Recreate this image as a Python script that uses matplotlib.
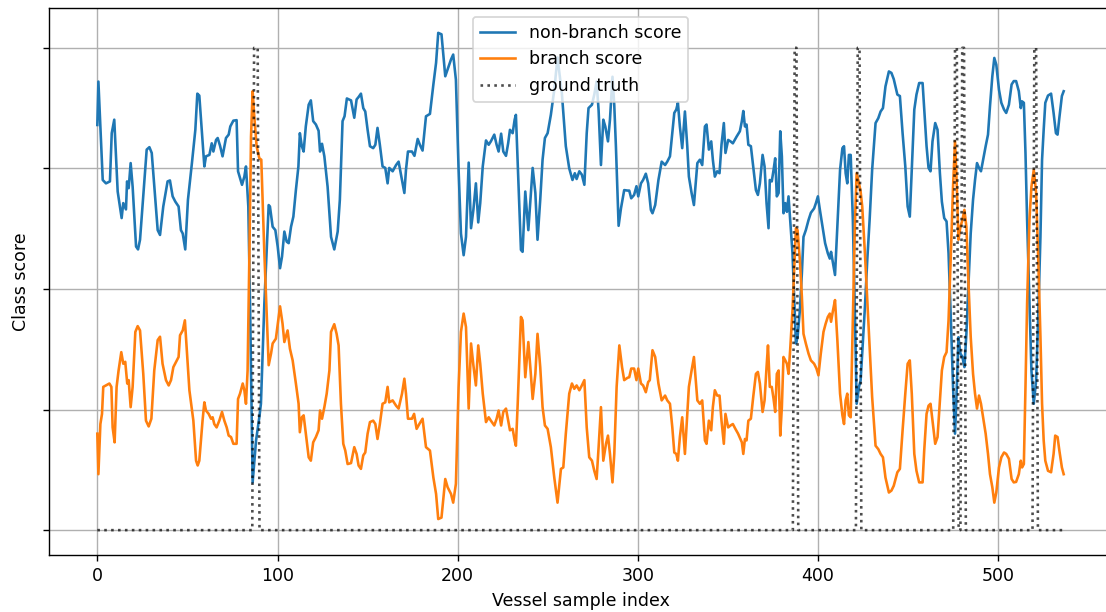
import numpy as np
import matplotlib
matplotlib.use("Agg")
import matplotlib.pyplot as plt

# vertices (sample index, score)
nonbranch_x = [0.0, 0.6, 3.0, 4.8, 7.0, 8.0, 9.4, 11.3, 13.5, 14.4, 15.9, 16.5, 17.4, 18.5, 19.6, 21.5, 22.6, 23.7,
               27.4, 28.9, 30.2, 33.5, 34.8, 36.6, 39.0, 40.3, 41.8, 43.3, 45.1, 46.4, 47.4, 48.8, 50.3, 52.5, 54.4,
               55.5, 56.6, 59.4, 60.3, 62.2, 63.5, 64.4, 65.9, 66.8, 68.1, 69.5, 71.4, 72.9, 73.8, 75.5, 77.3, 78.1,
               80.3, 81.6, 82.5, 83.8, 84.9, 86.2, 88.1, 89.9, 90.8, 92.7, 95.1, 95.8, 97.3, 98.8, 100.1, 101.4,
               102.5, 103.8, 105.1, 106.2, 107.5, 108.8, 110.2, 111.6, 112.4, 113.5, 114.5, 115.7, 117.3, 118.5,
               119.8, 121.3, 122.8, 123.6, 124.7, 126.0, 127.8, 129.7, 131.5, 133.4, 134.6, 136.1, 137.2, 138.5,
               140.8, 142.6, 143.9, 145.0, 146.3, 147.6, 148.7, 150.0, 151.3, 153.1, 154.3, 155.5, 156.8, 158.3,
               159.8, 161.1, 162.0, 163.9, 165.8, 167.2, 169.1, 170.4, 171.3, 172.4, 174.6, 176.0, 177.8, 179.0,
               180.5, 182.4, 184.6, 186.5, 188.0, 189.2, 191.0, 193.1, 194.4, 196.3, 197.5, 199.0, 200.5, 201.8,
               203.3, 204.6, 206.1, 207.4, 208.7, 210.1, 211.4, 212.5, 213.9, 215.7, 217.2, 218.4, 220.3, 221.6,
               222.7, 224.1, 225.3, 226.8, 228.0, 229.0, 230.5, 231.6, 232.3, 233.3, 235.1, 236.0, 237.5, 239.2,
               240.3, 241.6, 243.1, 244.3, 245.8, 247.1, 248.4, 249.9, 251.7, 253.6, 255.4, 257.8, 260.0, 261.9,
               263.7, 265.0, 266.0, 267.5, 268.9, 270.3, 271.6, 272.6, 274.5, 275.8, 277.1, 278.2, 279.5, 280.8,
               281.9, 283.4, 284.5, 285.9, 286.9, 287.8, 289.3, 290.6, 292.4, 294.3, 295.2, 296.3, 297.9, 299.2,
               300.2, 301.7, 302.9, 304.4, 305.7, 307.2, 308.1, 309.6, 311.4, 313.2, 315.1, 316.3, 317.8, 319.1,
               320.2, 321.3, 322.2, 323.3, 324.6, 326.1, 327.4, 328.3, 329.8, 331.1, 333.0, 334.4, 335.7, 337.2,
               338.1, 339.4, 340.7, 341.6, 342.7, 344.0, 345.3, 346.4, 347.7, 348.6, 350.1, 351.4, 352.7, 354.8,
               356.6, 357.7, 358.5, 359.4, 360.3, 361.3, 362.7, 364.0, 365.5, 366.6, 367.7, 369.2, 370.3, 371.4,
               372.5, 373.2, 374.3, 375.3, 376.2, 377.1, 378.1, 379.0, 379.9, 380.8, 381.8, 382.7, 383.6, 384.5,
               385.8, 386.8, 387.7, 388.6, 389.9, 391.0, 391.9, 393.2, 394.7, 396.0, 397.8, 398.8, 399.9, 401.0,
               402.5, 403.9, 405.4, 406.5, 407.2, 408.3, 409.4, 410.7, 412.2, 413.5, 414.4, 415.3, 416.2, 417.1,
               418.1, 419.3, 420.5, 421.4, 422.7, 423.6, 424.5, 426.0, 427.3, 428.6, 430.0, 431.9, 433.4, 434.7,
               436.0, 437.4, 439.3, 440.7, 442.0, 444.0, 445.4, 446.9, 448.4, 449.7, 450.9, 452.0, 453.4, 454.6,
               456.1, 458.0, 458.9, 460.2, 461.3, 462.4, 463.5, 465.0, 466.3, 467.6, 468.7, 470.0, 471.3, 472.4,
               473.7, 474.9, 476.0, 477.0, 477.9, 479.0, 480.1, 481.2, 482.3, 483.4, 484.7, 486.0, 487.1, 488.2,
               489.3, 490.4, 491.6, 493.0, 494.3, 495.4, 496.7, 497.8, 498.9, 500.4, 501.7, 503.2, 504.4, 505.9,
               507.4, 508.6, 509.9, 511.4, 512.5, 513.2, 514.2, 515.1, 516.0, 517.3, 518.4, 519.7, 521.0, 522.1,
               523.4, 524.3, 525.2, 526.1, 527.6, 529.3, 530.7, 532.0, 532.9, 533.9, 535.3, 536.3]
nonbranch = [0.84, 0.93, 0.726, 0.719, 0.723, 0.823, 0.851, 0.702, 0.647, 0.678, 0.665, 0.723, 0.709, 0.761, 0.712,
             0.588, 0.582, 0.602, 0.789, 0.794, 0.782, 0.622, 0.612, 0.671, 0.723, 0.725, 0.692, 0.681, 0.671, 0.622,
             0.615, 0.582, 0.685, 0.761, 0.830, 0.905, 0.901, 0.754, 0.775, 0.778, 0.802, 0.785, 0.809, 0.813, 0.797,
             0.775, 0.813, 0.820, 0.837, 0.849, 0.850, 0.744, 0.716, 0.733, 0.754, 0.671, 0.435, 0.099, 0.186, 0.234,
             0.262, 0.470, 0.674, 0.671, 0.629, 0.622, 0.588, 0.543, 0.567, 0.619, 0.598, 0.595, 0.629, 0.650, 0.705,
             0.754, 0.823, 0.796, 0.785, 0.837, 0.882, 0.891, 0.848, 0.841, 0.828, 0.785, 0.801, 0.775, 0.712, 0.608,
             0.582, 0.619, 0.685, 0.848, 0.858, 0.895, 0.891, 0.855, 0.893, 0.898, 0.905, 0.875, 0.868, 0.830, 0.796,
             0.792, 0.799, 0.834, 0.799, 0.754, 0.751, 0.719, 0.751, 0.744, 0.757, 0.764, 0.726, 0.699, 0.747, 0.785,
             0.785, 0.776, 0.811, 0.799, 0.787, 0.858, 0.863, 0.924, 0.969, 1.031, 1.028, 0.941, 0.955, 0.976, 0.986,
             0.934, 0.747, 0.615, 0.570, 0.608, 0.762, 0.626, 0.664, 0.719, 0.638, 0.678, 0.754, 0.808, 0.799, 0.806,
             0.820, 0.799, 0.785, 0.822, 0.785, 0.776, 0.802, 0.830, 0.823, 0.851, 0.861, 0.761, 0.581, 0.577, 0.702,
             0.622, 0.681, 0.751, 0.699, 0.602, 0.685, 0.768, 0.813, 0.823, 0.861, 0.913, 0.980, 0.906, 0.796, 0.750,
             0.726, 0.740, 0.728, 0.744, 0.737, 0.716, 0.823, 0.875, 0.882, 0.903, 0.930, 0.870, 0.757, 0.851, 0.837,
             0.806, 0.851, 0.940, 0.880, 0.796, 0.631, 0.667, 0.705, 0.704, 0.704, 0.688, 0.695, 0.713, 0.692, 0.719,
             0.726, 0.739, 0.719, 0.664, 0.657, 0.674, 0.726, 0.764, 0.757, 0.764, 0.775, 0.823, 0.865, 0.872, 0.886,
             0.837, 0.792, 0.868, 0.796, 0.733, 0.699, 0.674, 0.761, 0.768, 0.757, 0.837, 0.841, 0.789, 0.806, 0.768,
             0.733, 0.744, 0.740, 0.799, 0.844, 0.782, 0.809, 0.806, 0.802, 0.816, 0.827, 0.848, 0.869, 0.837, 0.841,
             0.799, 0.796, 0.754, 0.705, 0.695, 0.719, 0.778, 0.754, 0.678, 0.626, 0.726, 0.723, 0.747, 0.771, 0.692,
             0.699, 0.827, 0.775, 0.657, 0.678, 0.660, 0.692, 0.643, 0.574, 0.477, 0.387, 0.400, 0.456, 0.532, 0.608,
             0.622, 0.643, 0.658, 0.667, 0.678, 0.692, 0.664, 0.629, 0.595, 0.574, 0.563, 0.577, 0.553, 0.529, 0.629,
             0.747, 0.792, 0.796, 0.740, 0.719, 0.778, 0.778, 0.643, 0.435, 0.262, 0.297, 0.310, 0.366, 0.463, 0.560,
             0.643, 0.747, 0.844, 0.854, 0.868, 0.875, 0.920, 0.951, 0.948, 0.935, 0.903, 0.900, 0.823, 0.754, 0.671,
             0.650, 0.747, 0.872, 0.903, 0.927, 0.927, 0.872, 0.796, 0.751, 0.744, 0.806, 0.844, 0.830, 0.740, 0.681,
             0.647, 0.640, 0.574, 0.435, 0.297, 0.200, 0.297, 0.400, 0.366, 0.359, 0.338, 0.407, 0.505, 0.615, 0.685,
             0.726, 0.761, 0.751, 0.744, 0.768, 0.796, 0.820, 0.879, 0.941, 0.979, 0.965, 0.913, 0.886, 0.872, 0.865,
             0.882, 0.924, 0.931, 0.931, 0.910, 0.875, 0.889, 0.886, 0.782, 0.643, 0.470, 0.331, 0.262, 0.310, 0.435,
             0.608, 0.768, 0.830, 0.886, 0.901, 0.905, 0.865, 0.823, 0.820, 0.855, 0.900, 0.910]

branch_x = [0.0, 0.6, 1.7, 2.6, 3.3, 5.2, 6.7, 7.8, 8.5, 9.6, 10.7, 11.8, 13.3, 14.4, 15.5, 16.6, 17.4, 18.5, 19.6,
            21.1, 22.4, 23.7, 25.5, 27.0, 28.5, 30.0, 31.6, 33.5, 34.8, 36.2, 38.1, 39.6, 40.9, 42.2, 43.7, 45.1,
            45.9, 47.4, 48.6, 49.8, 51.1, 53.3, 54.8, 55.7, 56.6, 58.4, 59.4, 60.3, 61.8, 63.1, 64.0, 64.9, 66.2,
            67.7, 69.2, 70.5, 71.8, 72.9, 74.2, 75.5, 77.3, 78.1, 79.2, 80.7, 81.6, 82.5, 83.4, 84.4, 85.3, 86.2,
            87.1, 88.4, 89.9, 91.0, 92.7, 95.1, 96.4, 97.3, 99.1, 101.4, 102.8, 103.8, 105.6, 106.9, 108.4, 110.2,
            111.7, 112.4, 113.5, 114.5, 115.7, 117.3, 118.5, 119.8, 121.3, 122.8, 123.6, 124.7, 126.0, 127.3,
            128.8, 129.7, 131.5, 132.8, 133.9, 135.2, 136.5, 137.6, 138.9, 140.8, 142.6, 143.9, 145.0, 146.3,
            147.6, 148.7, 150.0, 151.3, 153.1, 154.3, 155.5, 156.8, 158.3, 159.8, 161.1, 162.0, 163.9, 165.8,
            167.2, 169.1, 170.4, 171.3, 172.4, 174.6, 175.8, 177.2, 178.7, 180.5, 182.4, 184.6, 186.5, 188.0,
            189.2, 191.0, 193.1, 194.4, 196.3, 197.5, 199.0, 200.5, 201.8, 203.3, 204.6, 206.1, 207.4, 208.7,
            210.1, 211.4, 212.5, 213.9, 215.7, 217.2, 218.4, 220.3, 221.6, 222.7, 224.1, 225.3, 226.8, 228.0,
            229.0, 230.5, 231.6, 232.3, 233.3, 235.1, 236.0, 237.5, 239.2, 240.3, 241.6, 243.1, 244.3, 245.8,
            247.1, 248.4, 249.9, 251.7, 253.6, 255.4, 257.3, 258.6, 260.0, 261.9, 263.4, 264.7, 266.0, 267.5,
            268.9, 270.3, 271.6, 273.0, 274.5, 275.8, 277.1, 278.2, 279.5, 280.8, 282.3, 283.4, 284.5, 285.9,
            286.9, 288.2, 289.7, 291.2, 292.4, 294.3, 295.2, 296.3, 297.9, 299.2, 300.2, 301.7, 302.9, 304.4,
            305.7, 306.6, 308.1, 309.6, 311.4, 313.2, 315.1, 316.3, 317.8, 319.1, 320.2, 321.3, 322.2, 323.3,
            324.6, 326.1, 327.4, 328.3, 329.8, 331.1, 333.0, 334.4, 335.7, 337.2, 338.1, 339.4, 340.7, 341.6,
            342.7, 344.0, 345.3, 346.4, 347.7, 348.6, 350.1, 351.4, 352.7, 354.1, 355.6, 357.7, 358.5, 359.4,
            360.3, 361.3, 362.7, 364.0, 365.5, 366.6, 367.7, 369.2, 370.3, 371.4, 372.2, 373.2, 374.3, 375.3,
            376.2, 377.1, 378.1, 379.0, 379.9, 380.8, 381.8, 382.7, 383.6, 384.5, 385.8, 386.8, 387.7, 388.6,
            389.9, 391.0, 391.9, 393.2, 394.7, 396.0, 397.8, 399.1, 400.2, 401.5, 403.0, 404.2, 405.4, 406.5,
            407.2, 408.3, 409.4, 410.7, 412.2, 413.5, 414.4, 415.3, 416.2, 417.1, 418.1, 419.3, 420.5, 421.4,
            422.7, 423.6, 424.5, 426.0, 427.3, 428.6, 430.0, 431.9, 433.4, 434.7, 436.0, 437.4, 439.3, 440.7,
            442.0, 444.0, 445.4, 446.9, 448.4, 449.7, 450.9, 452.0, 453.4, 454.6, 456.1, 458.0, 458.9, 460.2,
            461.3, 462.4, 463.5, 465.0, 466.3, 467.6, 468.7, 470.0, 471.3, 472.4, 473.7, 474.9, 476.0, 477.0,
            477.9, 479.0, 480.1, 481.2, 482.3, 483.4, 484.7, 486.0, 487.1, 488.2, 489.3, 490.4, 491.6, 493.0,
            494.3, 495.4, 496.7, 497.8, 498.9, 500.4, 501.7, 503.2, 504.4, 505.9, 507.4, 508.6, 509.9, 511.4,
            512.5, 513.2, 514.2, 515.1, 516.0, 517.3, 518.4, 519.7, 521.0, 522.1, 523.4, 524.3, 525.2, 526.1,
            527.6, 529.3, 530.7, 531.6, 532.9, 533.9, 535.3, 536.3]
branch = [0.200, 0.116, 0.220, 0.241, 0.297, 0.301, 0.304, 0.297, 0.213, 0.182, 0.297, 0.331, 0.369, 0.345, 0.349,
          0.304, 0.311, 0.255, 0.297, 0.411, 0.423, 0.414, 0.324, 0.227, 0.215, 0.231, 0.331, 0.394, 0.401, 0.345,
          0.311, 0.300, 0.311, 0.338, 0.349, 0.359, 0.404, 0.414, 0.435, 0.366, 0.290, 0.227, 0.144, 0.134, 0.144,
          0.227, 0.265, 0.248, 0.241, 0.231, 0.234, 0.220, 0.213, 0.227, 0.245, 0.227, 0.213, 0.196, 0.193, 0.179,
          0.179, 0.272, 0.283, 0.304, 0.290, 0.262, 0.331, 0.574, 0.816, 0.910, 0.858, 0.796, 0.771, 0.768, 0.574,
          0.342, 0.366, 0.387, 0.397, 0.464, 0.428, 0.390, 0.414, 0.376, 0.352, 0.304, 0.262, 0.203, 0.234, 0.238,
          0.200, 0.151, 0.144, 0.182, 0.193, 0.207, 0.248, 0.231, 0.255, 0.283, 0.331, 0.411, 0.427, 0.407, 0.383,
          0.262, 0.179, 0.165, 0.137, 0.139, 0.172, 0.158, 0.134, 0.127, 0.155, 0.161, 0.200, 0.224, 0.227, 0.220,
          0.189, 0.220, 0.262, 0.265, 0.297, 0.265, 0.269, 0.258, 0.252, 0.283, 0.314, 0.283, 0.231, 0.231, 0.241,
          0.210, 0.220, 0.231, 0.172, 0.165, 0.109, 0.075, 0.023, 0.026, 0.106, 0.089, 0.075, 0.057, 0.096, 0.297,
          0.411, 0.449, 0.421, 0.252, 0.387, 0.342, 0.300, 0.383, 0.345, 0.283, 0.224, 0.234, 0.227, 0.217, 0.231,
          0.248, 0.217, 0.245, 0.252, 0.227, 0.207, 0.210, 0.186, 0.175, 0.262, 0.442, 0.435, 0.317, 0.390, 0.338,
          0.272, 0.324, 0.407, 0.338, 0.255, 0.217, 0.210, 0.172, 0.109, 0.057, 0.127, 0.130, 0.200, 0.283, 0.304,
          0.293, 0.300, 0.290, 0.300, 0.311, 0.213, 0.151, 0.144, 0.123, 0.106, 0.172, 0.255, 0.144, 0.179, 0.196,
          0.158, 0.099, 0.158, 0.297, 0.383, 0.338, 0.311, 0.316, 0.317, 0.335, 0.335, 0.311, 0.335, 0.304, 0.300,
          0.286, 0.307, 0.311, 0.373, 0.359, 0.304, 0.269, 0.279, 0.269, 0.262, 0.213, 0.161, 0.158, 0.144, 0.193,
          0.234, 0.158, 0.238, 0.297, 0.331, 0.359, 0.269, 0.262, 0.269, 0.186, 0.179, 0.227, 0.207, 0.255, 0.290,
          0.279, 0.279, 0.227, 0.179, 0.241, 0.213, 0.217, 0.220, 0.210, 0.200, 0.182, 0.158, 0.189, 0.186, 0.227,
          0.231, 0.276, 0.324, 0.328, 0.304, 0.245, 0.269, 0.338, 0.383, 0.297, 0.297, 0.272, 0.245, 0.324, 0.331,
          0.196, 0.255, 0.359, 0.352, 0.345, 0.324, 0.373, 0.456, 0.546, 0.626, 0.622, 0.560, 0.484, 0.407, 0.387,
          0.366, 0.352, 0.345, 0.335, 0.321, 0.366, 0.411, 0.428, 0.442, 0.449, 0.432, 0.456, 0.477, 0.394, 0.283,
          0.238, 0.220, 0.269, 0.283, 0.238, 0.234, 0.435, 0.643, 0.740, 0.719, 0.702, 0.671, 0.574, 0.477, 0.380,
          0.276, 0.175, 0.168, 0.158, 0.151, 0.109, 0.078, 0.082, 0.092, 0.120, 0.127, 0.207, 0.283, 0.345, 0.352,
          0.283, 0.158, 0.123, 0.099, 0.099, 0.165, 0.241, 0.258, 0.262, 0.227, 0.179, 0.193, 0.269, 0.331, 0.359,
          0.369, 0.435, 0.574, 0.712, 0.806, 0.712, 0.602, 0.629, 0.643, 0.664, 0.629, 0.518, 0.401, 0.324, 0.283,
          0.252, 0.279, 0.262, 0.234, 0.200, 0.158, 0.116, 0.089, 0.057, 0.078, 0.130, 0.151, 0.161, 0.158, 0.148,
          0.106, 0.099, 0.100, 0.116, 0.144, 0.130, 0.137, 0.297, 0.470, 0.643, 0.712, 0.747, 0.699, 0.574, 0.401,
          0.262, 0.186, 0.144, 0.123, 0.120, 0.158, 0.196, 0.193, 0.165, 0.130, 0.116]

# ground truth: 537 samples, branch samples listed below
n_samples = 537
branch_samples = [87, 88, 89, 387, 388, 422, 423, 476, 477, 480, 481, 520, 521]

gt = np.zeros(n_samples)
gt[branch_samples] = 1

fig = plt.figure(figsize=(1106 / 125, 612 / 125), dpi=125)
ax = fig.add_axes([49 / 1106, 57 / 612, 1063 / 1106, 547 / 612])

ax.plot(nonbranch_x, nonbranch, label="non-branch score")
ax.plot(branch_x, branch, label="branch score")
ax.plot(np.arange(n_samples), gt, "k:", alpha=0.7, label="ground truth")

ax.set_yticks([0, 0.25, 0.5, 0.75, 1.0])
ax.set_yticklabels([])
ax.grid(True)
ax.set_xlabel("Vessel sample index")
ax.set_ylabel("Class score")
ax.legend(loc="upper center")

fig.savefig("out.png", dpi=125)
